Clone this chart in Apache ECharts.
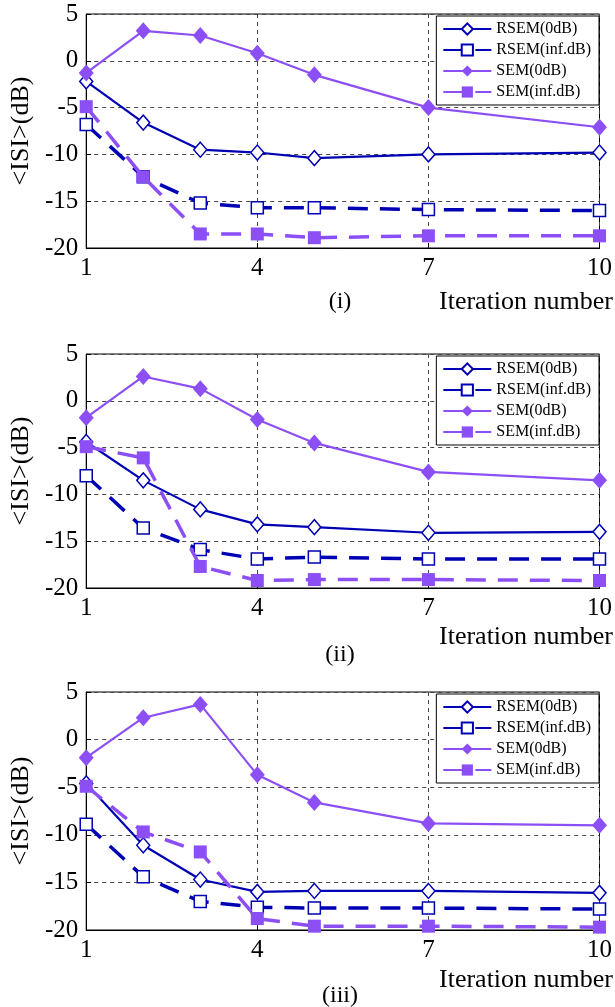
<!DOCTYPE html>
<html>
<head>
<meta charset="utf-8">
<script src="https://cdn.jsdelivr.net/npm/echarts@6/dist/echarts.min.js"></script>
<style>
html,body{margin:0;padding:0;background:#fff;}
#chart{width:615px;height:1007px;}
</style>
</head>
<body>
<div id="chart"></div>
<script>
// ---- data ----
const iterations = [1, 2, 3, 4, 5, 7, 10];
const xTicks = [1, 4, 7, 10];
const yTicks = [-20, -15, -10, -5, 0, 5];
const seriesNames = ['RSEM(0dB)', 'RSEM(inf.dB)', 'SEM(0dB)', 'SEM(inf.dB)'];
const panelLabels = ['(i)', '(ii)', '(iii)'];

// panel (i)
const rsem0_i   = [-2.2, -6.6, -9.5, -9.8, -10.4, -10.0, -9.8];
const rsemInf_i = [-6.8, -12.4, -15.2, -15.7, -15.7, -15.9, -16.0];
const sem0_i    = [-1.3, 3.2, 2.7, 0.8, -1.5, -5.0, -7.1];
const semInf_i  = [-4.9, -12.4, -18.5, -18.5, -18.9, -18.7, -18.7];
// panel (ii)
const rsem0_ii   = [-4.4, -8.5, -11.6, -13.2, -13.5, -14.1, -14.0];
const rsemInf_ii = [-8.0, -13.6, -15.9, -16.9, -16.7, -16.9, -16.9];
const sem0_ii    = [-1.8, 2.6, 1.3, -2.0, -4.5, -7.6, -8.5];
const semInf_ii  = [-4.9, -6.1, -17.7, -19.2, -19.1, -19.1, -19.2];
// panel (iii)
const rsem0_iii   = [-4.6, -11.1, -14.7, -16.0, -15.9, -15.9, -16.1];
const rsemInf_iii = [-8.9, -14.4, -17.0, -17.6, -17.7, -17.7, -17.8];
const sem0_iii    = [-1.9, 2.3, 3.7, -3.7, -6.6, -8.8, -9.0];
const semInf_iii  = [-4.9, -9.7, -11.8, -18.8, -19.6, -19.6, -19.7];

const panels = [
  [rsem0_i, rsemInf_i, sem0_i, semInf_i],
  [rsem0_ii, rsemInf_ii, sem0_ii, semInf_ii],
  [rsem0_iii, rsemInf_iii, sem0_iii, semInf_iii]
];

// ---- layout / style ----
const FONT = '"Liberation Serif","Times New Roman",serif';
const BLUE = '#0000b4';
const PURPLE = '#8c4ff5';
const grids = [
  {left: 80, top: 14, width: 523, height: 234},
  {left: 80, top: 354, width: 523, height: 234},
  {left: 80, top: 692, width: 523, height: 238}
];
const footY = [[302, 302], [637, 655], [980, 996]];

const styles = [
  {color: BLUE, lineWidth: 2.2, type: 'solid', symbol: 'diamond', size: [13, 15], fill: '#fff', border: 1.5},
  {color: BLUE, lineWidth: 3.5, type: [20, 12], symbol: 'rect', size: 12, fill: '#fff', border: 1.5},
  {color: PURPLE, lineWidth: 2.2, type: 'solid', symbol: 'diamond', size: [15, 17], fill: PURPLE, border: 0},
  {color: PURPLE, lineWidth: 3.5, type: [20, 12], symbol: 'rect', size: 13, fill: PURPLE, border: 0}
];

const xAxes = [], yAxes = [], series = [], legends = [], graphics = [];
grids.forEach((g, p) => {
  xAxes.push({
    type: 'value', gridIndex: p, min: 1, max: 10,
    axisLine: {show: true, onZero: false, lineStyle: {color: '#000', width: 1}},
    axisTick: {show: true, inside: true, length: 5, customValues: xTicks, lineStyle: {color: '#000'}},
    axisLabel: {customValues: xTicks, color: '#000', fontFamily: FONT, fontSize: 25, margin: 8},
    splitLine: {show: true, lineStyle: {color: '#444', width: 1, type: [4, 4]}}
  });
  yAxes.push({
    type: 'value', gridIndex: p, min: -20, max: 5, interval: 5,
    name: '<ISI>(dB)', nameLocation: 'middle', nameGap: 47,
    nameTextStyle: {color: '#000', fontFamily: FONT, fontSize: 26},
    axisLine: {show: true, lineStyle: {color: '#000', width: 1}},
    axisTick: {show: true, inside: true, length: 5, lineStyle: {color: '#000'}},
    axisLabel: {color: '#000', fontFamily: FONT, fontSize: 25, margin: 8},
    splitLine: {show: true, lineStyle: {color: '#444', width: 1, type: [4, 4]}}
  });
  panels[p].forEach((vals, s) => {
    const st = styles[s];
    series.push({
      name: seriesNames[s], type: 'line', xAxisIndex: p, yAxisIndex: p,
      data: iterations.map((x, i) => [x, vals[i]]),
      symbol: st.symbol, symbolSize: st.size, showSymbol: true,
      lineStyle: {color: st.color, width: st.lineWidth, type: st.type},
      itemStyle: {color: st.fill, borderColor: st.color, borderWidth: st.border},
      emphasis: {disabled: true}, animation: false, clip: false, z: 2 + s
    });
  });
  legends.push({
    data: seriesNames, orient: 'vertical', right: 16, top: g.top + 2,
    backgroundColor: '#fff', borderColor: '#000', borderWidth: 1, borderRadius: 0,
    padding: [5, 8, 5, 6], itemWidth: 48, itemHeight: 14, itemGap: 5,
    textStyle: {color: '#000', fontFamily: FONT, fontSize: 16}, selectedMode: false
  });
  graphics.push({
    type: 'text', x: 613, y: footY[p][0],
    style: {text: 'Iteration number', align: 'right', verticalAlign: 'middle', font: '26px ' + FONT, fill: '#000'}
  });
  graphics.push({
    type: 'text', x: 340, y: footY[p][1],
    style: {text: panelLabels[p], align: 'center', verticalAlign: 'middle', font: '24px ' + FONT, fill: '#000'}
  });
});

const chart = echarts.init(document.getElementById('chart'), null, {renderer: 'canvas'});
chart.setOption({
  animation: false,
  backgroundColor: '#fff',
  grid: grids.map(g => Object.assign({show: true, borderColor: '#000', borderWidth: 1, backgroundColor: 'transparent'}, g)),
  xAxis: xAxes,
  yAxis: yAxes,
  legend: legends,
  series: series,
  graphic: graphics
});
</script>
</body>
</html>
